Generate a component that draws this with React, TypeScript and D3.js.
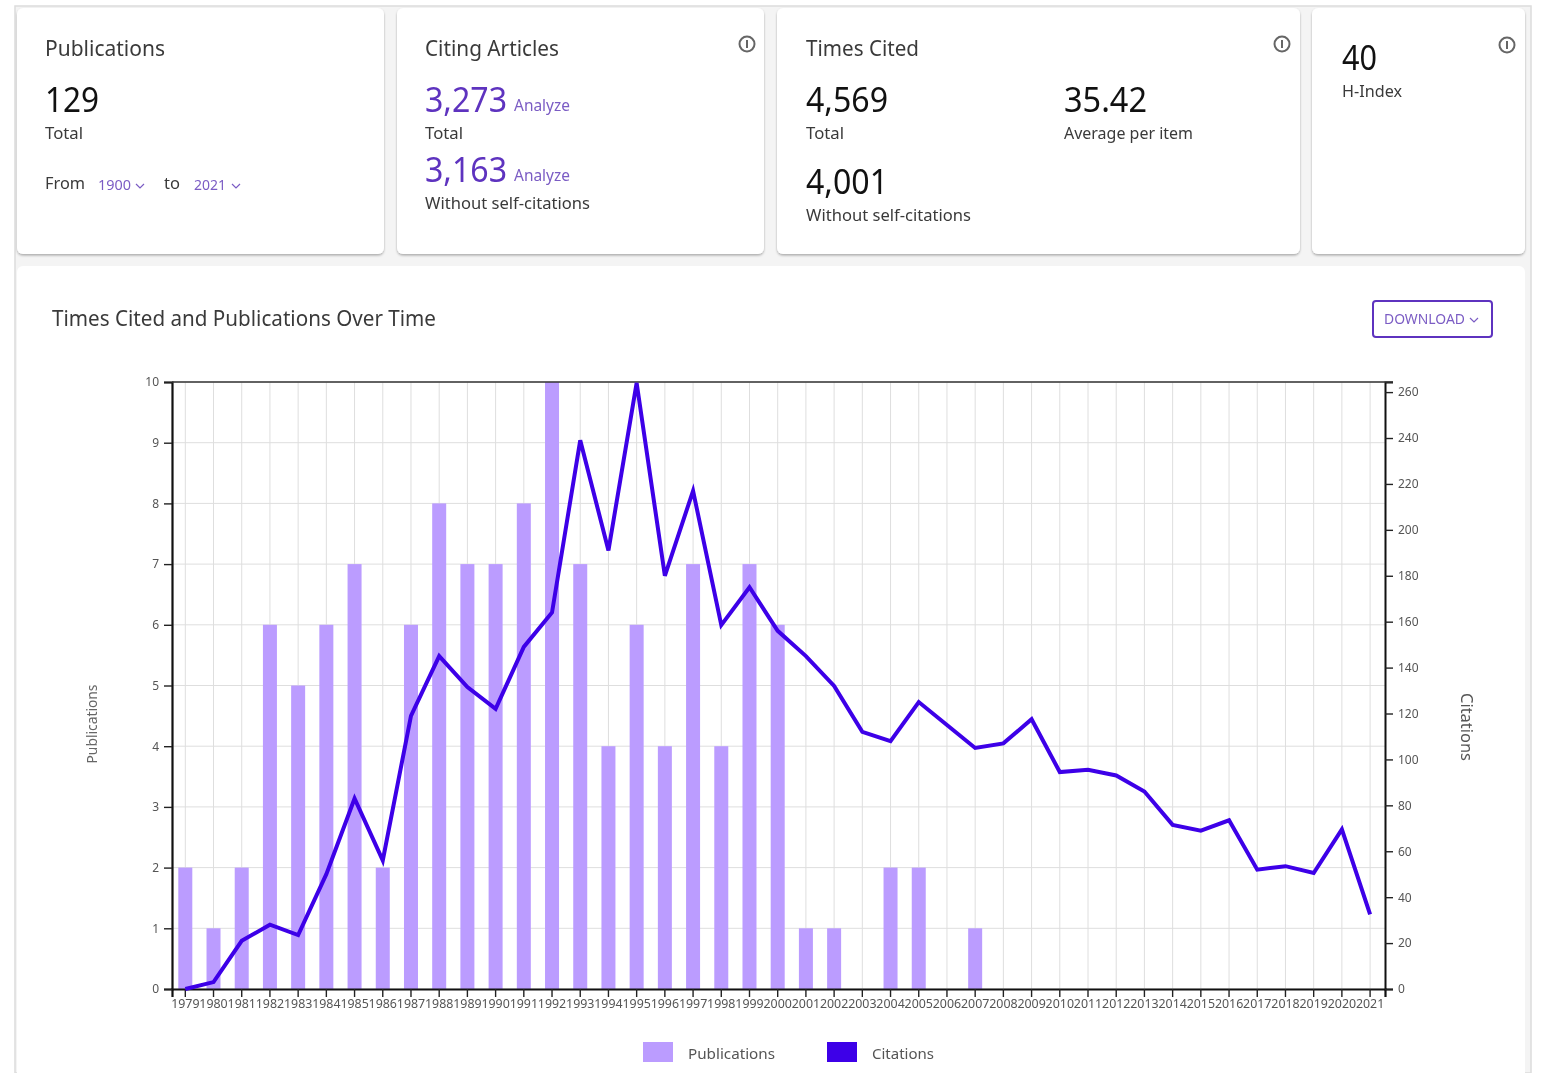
import React, { useEffect, useRef } from "react";
import * as d3 from "d3";

const years = d3.range(1979, 2022).map(String);
const publications = [2,1,2,6,5,6,7,2,6,8,7,7,8,10,7,4,6,4,7,4,7,6,1,1,0,2,2,0,1,0,0,0,0,0,0,0,0,0,0,0,0,0,0];
const citations = [0,3,21,28,23.5,50,83,56,119,145,131.5,122,149,164,239,191,264,180,217,158.5,175,156,145,132,112,108,125,115,105,107,117.5,94.5,95.5,93,86,71.5,69,73.5,52,53.5,50.5,69.5,32.5];
const pubTicks = d3.range(0, 11);
const citeTicks = d3.range(0, 261, 20);

const FONT = "'Noto Sans', sans-serif";
const INK = "#3a3a3a";
const PURPLE = "#5e33bf";
const SOFT = "#7b5cc4";

function T({ x, y, w, size, fill = INK, children }: any) {
  return (
    <text x={x} y={y} fontSize={size} fill={fill} fontFamily={FONT} textLength={w} lengthAdjust="spacingAndGlyphs">
      {children}
    </text>
  );
}

function Card({ x, w }: any) {
  return <rect x={x} y={8} width={w} height={246} rx={6} fill="#fff" filter="url(#cardShadow)" />;
}

function Info({ x, y }: any) {
  return (
    <g>
      <circle cx={x} cy={y} r={7.5} fill="none" stroke="#666" strokeWidth={2} />
      <line x1={x} x2={x} y1={y - 4} y2={y + 4} stroke="#666" strokeWidth={2} />
    </g>
  );
}

function Chevron({ x, y, w = 8, color = SOFT }: any) {
  return <path d={`M${x},${y} l${w / 2},${w / 2} l${w / 2},${-w / 2}`} fill="none" stroke={color} strokeWidth={1.2} />;
}

export default function App() {
  const ref = useRef<SVGGElement>(null);

  useEffect(() => {
    const left = 172, right = 1385, top = 382, bottom = 989, nudge = -0.8;
    const g = d3.select(ref.current);
    g.selectAll("*").remove();

    const x = d3.scaleBand().domain(years).range([left, right]);
    const yPub = d3.scaleLinear().domain([0, 10]).range([bottom, top]);
    const yCite = d3.scaleLinear().domain([0, 264.4]).range([bottom, top]);
    const cx = (y: string) => (x(y) as number) + x.bandwidth() / 2 + nudge;

    g.append("g").selectAll("line").data(years).join("line")
      .attr("x1", cx).attr("x2", cx).attr("y1", top).attr("y2", bottom)
      .attr("stroke", "#dedede").attr("stroke-width", 1);
    g.append("g").selectAll("line").data(pubTicks).join("line")
      .attr("x1", left).attr("x2", right)
      .attr("y1", (d) => yPub(d)).attr("y2", (d) => yPub(d))
      .attr("stroke", "#dedede").attr("stroke-width", 1);

    g.append("g").selectAll("rect").data(years).join("rect")
      .attr("x", (d) => cx(d) - 7)
      .attr("width", 14)
      .attr("y", (_, i) => yPub(publications[i]))
      .attr("height", (_, i) => bottom - yPub(publications[i]))
      .attr("fill", "#bb9cff");

    const style = (sel: any, w: number) => {
      sel.selectAll("path").attr("stroke", "#111").attr("stroke-width", w);
      sel.selectAll("line").attr("stroke", "#222").attr("stroke-width", 1.4);
      sel.selectAll("text").attr("fill", "#555").attr("font-size", 12).attr("font-family", FONT);
      sel.attr("font-family", FONT);
    };

    const axB = g.append("g").attr("transform", `translate(0,${bottom})`)
      .call(d3.axisBottom(x).tickSize(8).tickPadding(2));
    style(axB, 2.2);
    axB.selectAll("text").attr("font-size", 12.4).attr("dx", nudge);
    axB.selectAll(".tick line").attr("x1", nudge).attr("x2", nudge);

    const axL = g.append("g").attr("transform", `translate(${left},0)`)
      .call(d3.axisLeft(yPub).tickValues(pubTicks).tickFormat(d3.format("d")).tickSize(8).tickPadding(5));
    style(axL, 2.2);

    const axR = g.append("g").attr("transform", `translate(${right},0)`)
      .call(d3.axisRight(yCite).tickValues(citeTicks).tickFormat(d3.format("d")).tickSize(8).tickPadding(5));
    style(axR, 2);

    g.append("line").attr("x1", left).attr("x2", right + 8).attr("y1", top).attr("y2", top)
      .attr("stroke", "#333").attr("stroke-width", 1.5);

    const line = d3.line<number>().x((_, i) => cx(years[i])).y((d) => yCite(d));
    g.append("path").attr("d", line(citations)).attr("fill", "none")
      .attr("stroke", "#3d00e8").attr("stroke-width", 4).attr("stroke-linejoin", "miter");
  }, []);

  return (
    <svg width={1542} height={1073} style={{ position: "absolute", left: 0, top: 0, filter: "blur(0.4px)" }}>
      <defs>
        <filter id="cardShadow" x="-5%" y="-5%" width="110%" height="110%">
          <feDropShadow dx="0" dy="1.5" stdDeviation="1.2" floodColor="#000" floodOpacity="0.3" />
        </filter>
      </defs>
      <rect x={0} y={0} width={1542} height={1073} fill="#fff" />
      <rect x={15} y={6} width={1516} height={1067} fill="#f4f4f4" stroke="#dcdcdc" strokeWidth={1.5} />
      <Card x={17} w={367} />
      <Card x={397} w={367} />
      <Card x={777} w={523} />
      <Card x={1312} w={213} />
      <rect x={17} y={266} width={1508} height={820} rx={6} fill="#fff" />

      <T x={45} y={56} w={120} size={22}>Publications</T>
      <T x={45} y={112} w={54} size={35} fill="#111">129</T>
      <T x={45} y={139} w={38} size={17}>Total</T>
      <T x={45} y={189} w={40} size={17}>From</T>
      <T x={98} y={190} w={33} size={14} fill={SOFT}>1900</T>
      <Chevron x={136} y={184} />
      <T x={164} y={189} w={16} size={17}>to</T>
      <T x={194} y={190} w={32} size={14} fill={SOFT}>2021</T>
      <Chevron x={232} y={184} />

      <T x={425} y={112} w={82} size={35} fill={PURPLE}>3,273</T>
      <T x={425} y={56} w={134} size={22}>Citing Articles</T>
      <T x={514} y={111} w={56} size={16} fill={SOFT}>Analyze</T>
      <T x={425} y={139} w={38} size={17}>Total</T>
      <T x={425} y={182} w={82} size={35} fill={PURPLE}>3,163</T>
      <T x={514} y={181} w={56} size={16} fill={SOFT}>Analyze</T>
      <T x={425} y={209} w={165} size={17}>Without self-citations</T>
      <Info x={747} y={44} />

      <T x={806} y={56} w={113} size={22}>Times Cited</T>
      <T x={806} y={112} w={82} size={35} fill="#111">4,569</T>
      <T x={806} y={139} w={38} size={17}>Total</T>
      <T x={1064} y={112} w={83} size={35} fill="#111">35.42</T>
      <T x={1064} y={139} w={129} size={17}>Average per item</T>
      <T x={806} y={194} w={82} size={35} fill="#111">4,001</T>
      <T x={806} y={221} w={165} size={17}>Without self-citations</T>
      <Info x={1282} y={44} />

      <T x={1342} y={70} w={35} size={35} fill="#111">40</T>
      <T x={1342} y={97} w={60} size={17}>H-Index</T>
      <Info x={1507} y={45} />

      <T x={52} y={326} w={384} size={22}>Times Cited and Publications Over Time</T>
      <rect x={1373} y={301} width={119} height={36} rx={3} fill="#fff" stroke={PURPLE} strokeWidth={2} />
      <T x={1384} y={324} w={81} size={15} fill={SOFT}>DOWNLOAD</T>
      <Chevron x={1470} y={318} />

      <g ref={ref} />

      <text transform="translate(97,724) rotate(-90)" textAnchor="middle" fontSize={14} fill="#666" fontFamily={FONT} textLength={79} lengthAdjust="spacingAndGlyphs">Publications</text>
      <text transform="translate(1461,727) rotate(90)" textAnchor="middle" fontSize={16} fill="#555" fontFamily={FONT} textLength={68} lengthAdjust="spacingAndGlyphs">Citations</text>

      <rect x={643} y={1042} width={30} height={20} fill="#bb9cff" />
      <T x={688} y={1059} w={87} size={15} fill="#555">Publications</T>
      <rect x={827} y={1042} width={30} height={20} fill="#3d00e8" />
      <T x={872} y={1059} w={62} size={15} fill="#555">Citations</T>
    </svg>
  );
}
